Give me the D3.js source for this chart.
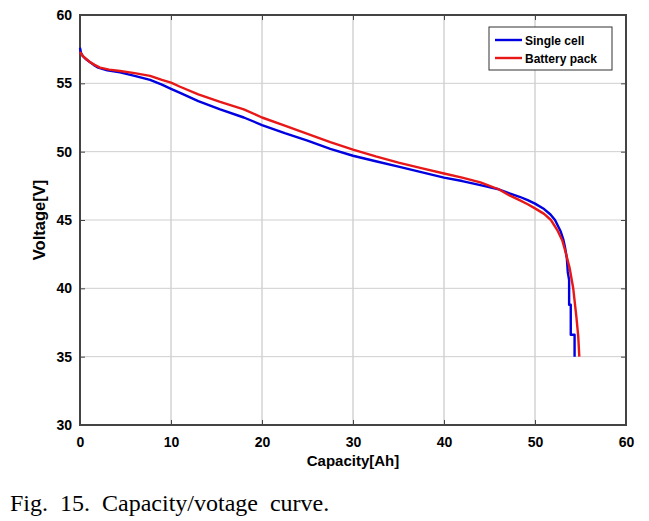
<!DOCTYPE html>
<html>
<head>
<meta charset="utf-8">
<script src="https://cdn.jsdelivr.net/npm/d3@7"></script>
<style>
  body { margin: 0; background: #fff; }
  svg { display: block; }
</style>
</head>
<body>
<svg id="chart" width="649" height="521"></svg>
<script>
// capacity [Ah] / voltage [V] pairs
const singleCell = [
    [0, 57.6], [0.1, 57.25], [0.3, 57.0], [0.6, 56.8], [1, 56.6], [1.5, 56.35], [2, 56.15],
    [3, 55.95], [4.4, 55.8], [6, 55.55], [7.7, 55.25], [9, 54.9], [10, 54.6], [11, 54.3],
    [13, 53.7], [15.4, 53.1], [18, 52.5], [20, 51.95], [22.5, 51.35], [25, 50.8], [27.5, 50.2],
    [30, 49.7], [32.5, 49.3], [35, 48.9], [37.5, 48.5], [40, 48.1], [42, 47.85], [44, 47.55],
    [46, 47.25], [47.2, 46.95], [48.3, 46.7], [49.2, 46.45], [50, 46.2], [51, 45.8],
    [51.7, 45.4], [52.2, 45], [52.8, 44.2], [53.1, 43.6], [53.3, 43], [53.5, 42.2],
    [53.6, 41.2], [53.75, 40.6], [53.75, 38.8], [53.93, 38.8], [53.93, 36.6], [54.35, 36.6],
    [54.35, 35]
];
const batteryPack = [
    [0, 57.3], [0.3, 57.0], [1, 56.6], [1.6, 56.35], [2.2, 56.15], [3.2, 56.0], [4.4, 55.9],
    [6, 55.75], [7.7, 55.55], [9, 55.25], [10, 55.05], [11, 54.75], [13, 54.2], [15.4, 53.65],
    [18, 53.1], [20, 52.5], [22.5, 51.9], [25, 51.3], [27.5, 50.7], [30, 50.15], [32.5, 49.65],
    [35, 49.2], [37.5, 48.8], [40, 48.4], [42, 48.1], [44, 47.75], [46, 47.25], [47.2, 46.8],
    [48.3, 46.45], [49.2, 46.15], [50, 45.85], [51, 45.45], [51.75, 45], [52.5, 44.2],
    [53, 43.5], [53.3, 42.8], [53.8, 41.5], [54.2, 40], [54.55, 37.9], [54.75, 36.5],
    [54.87, 35]
];
const xTicks = [0, 10, 20, 30, 40, 50, 60];
const yTicks = [30, 35, 40, 45, 50, 55, 60];
const seriesNames = ["Single cell", "Battery pack"];
const seriesColors = ["#0000e0", "#e81818"];

const svg = d3.select("#chart");
const margin = { top: 15, right: 23, bottom: 96, left: 80 };
const width = 649 - margin.left - margin.right;
const height = 521 - margin.top - margin.bottom;

const x = d3.scaleLinear().domain([0, 60]).range([0, width]);
const y = d3.scaleLinear().domain([30, 60]).range([height, 0]);

const g = svg.append("g").attr("transform", `translate(${margin.left},${margin.top})`);

// grid
g.append("g").selectAll("line").data(xTicks.slice(1, -1)).join("line")
    .attr("x1", d => x(d)).attr("x2", d => x(d)).attr("y1", 0).attr("y2", height)
    .attr("stroke", "#bdbdbd").attr("stroke-width", 1);
g.append("g").selectAll("line").data(yTicks.slice(1, -1)).join("line")
    .attr("y1", d => y(d)).attr("y2", d => y(d)).attr("x1", 0).attr("x2", width)
    .attr("stroke", "#cfcfcf").attr("stroke-width", 1);

// axes
const tickFont = "bold 14px 'Liberation Sans', Arial, sans-serif";
const xAxis = g.append("g").attr("transform", `translate(0,${height})`)
    .call(d3.axisBottom(x).tickValues(xTicks).tickSizeInner(-5).tickSizeOuter(0).tickPadding(12));
const yAxis = g.append("g")
    .call(d3.axisLeft(y).tickValues(yTicks).tickSizeInner(-5).tickSizeOuter(0).tickPadding(8));
g.append("g")
    .call(d3.axisTop(x).tickValues(xTicks).tickSizeInner(-5).tickSizeOuter(0).tickFormat(""));
g.append("g").attr("transform", `translate(${width},0)`)
    .call(d3.axisRight(y).tickValues(yTicks).tickSizeInner(-5).tickSizeOuter(0).tickFormat(""));
g.selectAll(".domain").remove();
g.selectAll(".tick line").attr("stroke", "#444");
[xAxis, yAxis].forEach(a => a.selectAll("text").style("font", tickFont).attr("fill", "#000"));

g.append("rect").attr("width", width).attr("height", height)
    .attr("fill", "none").attr("stroke", "#444").attr("stroke-width", 2);

// curves
const line = d3.line().x(d => x(d[0])).y(d => y(d[1]));
[singleCell, batteryPack].forEach((s, i) => {
    g.append("path").datum(s)
        .attr("d", line)
        .attr("fill", "none")
        .attr("stroke", seriesColors[i])
        .attr("stroke-width", 2.4)
        .attr("stroke-linejoin", "round");
});

// legend
const legend = g.append("g").attr("transform", `translate(${width - 137},12)`);
legend.append("rect").attr("width", 123).attr("height", 43)
    .attr("fill", "#fff").attr("stroke", "#333").attr("stroke-width", 1);
seriesNames.forEach((name, i) => {
    const ly = 13 + i * 18;
    legend.append("line").attr("x1", 6).attr("x2", 33).attr("y1", ly).attr("y2", ly)
        .attr("stroke", seriesColors[i]).attr("stroke-width", 2.4);
    legend.append("text").attr("x", 36).attr("y", ly + 4.5)
        .style("font", "bold 12px 'Liberation Sans', Arial, sans-serif")
        .text(name);
});

// axis titles
g.append("text")
    .attr("x", width / 2).attr("y", height + 41)
    .attr("text-anchor", "middle")
    .style("font", "bold 15px 'Liberation Sans', Arial, sans-serif")
    .text("Capacity[Ah]");
g.append("text")
    .attr("transform", `translate(-35,${height / 2}) rotate(-90)`)
    .attr("text-anchor", "middle")
    .style("font", "bold 16.5px 'Liberation Sans', Arial, sans-serif")
    .text("Voltage[V]");

// caption
svg.append("text")
    .attr("x", 10).attr("y", 511)
    .style("font", "24px 'Liberation Serif', 'Times New Roman', serif")
    .attr("word-spacing", "6px")
    .text("Fig. 15. Capacity/votage curve.");
</script>
</body>
</html>
